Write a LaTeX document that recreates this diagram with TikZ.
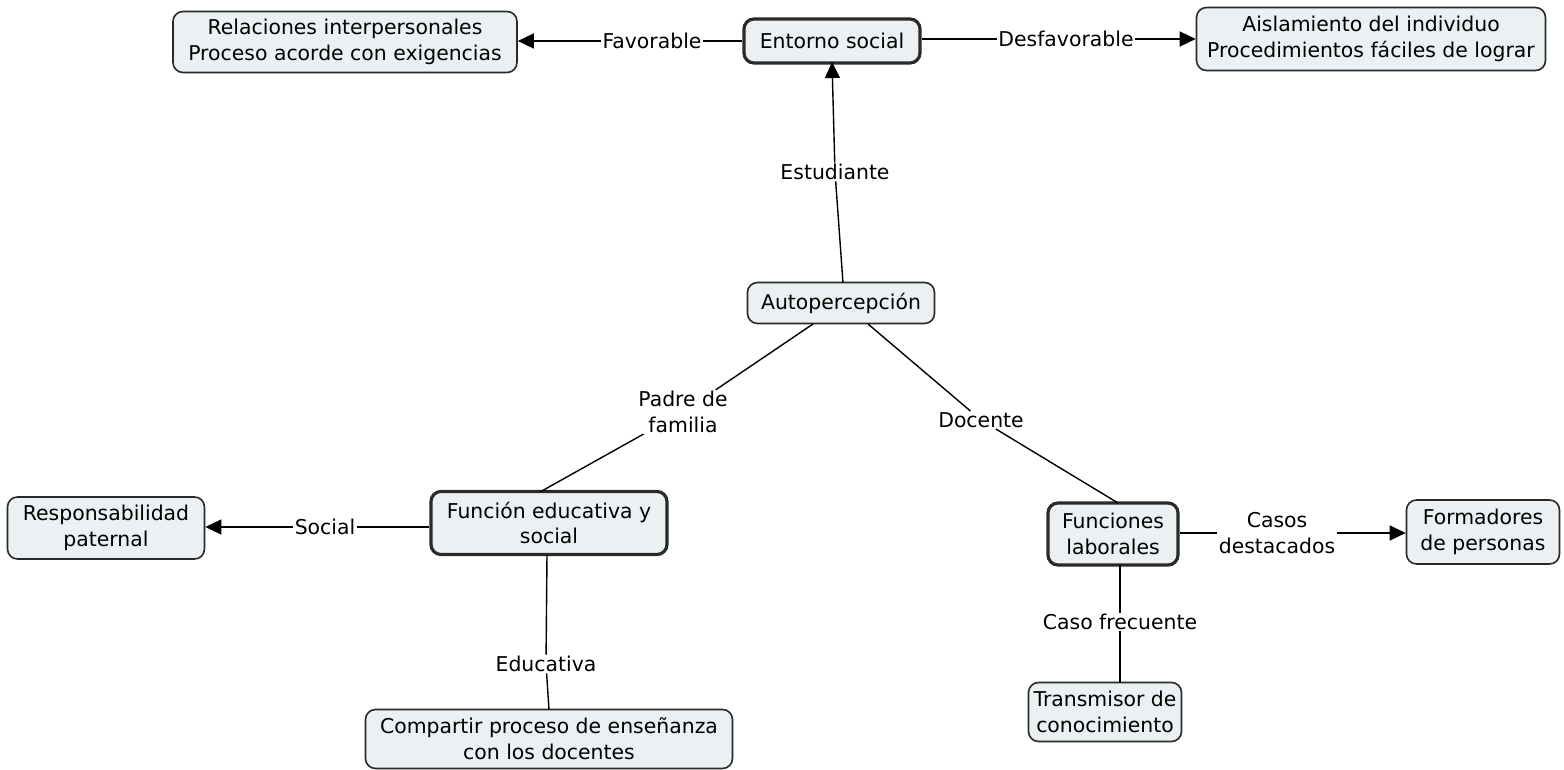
\documentclass[tikz,border=0pt]{standalone}
\usepackage{fontspec}
\setmainfont{DejaVu Sans}
\usetikzlibrary{arrows.meta}
\definecolor{boxfill}{HTML}{EBF1F3}
\definecolor{boxline}{HTML}{2A2A2A}
\tikzset{
  concept/.style={draw=boxline, fill=boxfill, rounded corners=5pt, line width=0.8pt,
    align=center, inner sep=2pt, font=\fontsize{10.2}{12.8}\selectfont},
  keyconcept/.style={concept, line width=1.6pt},
  lbl/.style={inner sep=0.5pt, align=center, font=\fontsize{10.2}{12.8}\selectfont},
  link/.style={line width=0.7pt, draw=black},
  arr/.style={link, -{Triangle[length=8pt,width=7.5pt]}},
}
\begin{document}
\begin{tikzpicture}[x=0.5pt,y=-0.5pt]
\useasboundingbox (0,0) rectangle (1564,770);
\fill[white] (0,0) rectangle (1564,770);
% concepts
\node[concept, minimum width=172pt, minimum height=30.5pt] (rel) at (345,42) {Relaciones interpersonales\\Proceso acorde con exigencias};
\node[keyconcept, minimum width=88pt, minimum height=22pt] (ent) at (832,41) {Entorno social};
\node[concept, minimum width=174.5pt, minimum height=31.5pt] (ais) at (1371,39) {Aislamiento del individuo\\Procedimientos fáciles de lograr};
\node[concept, minimum width=93.5pt, minimum height=20.5pt] (aut) at (841,303) {Autopercepción};
\node[keyconcept, minimum width=118pt, minimum height=31.5pt] (fed) at (549,523) {Función educativa y\\social};
\node[concept, minimum width=98.5pt, minimum height=31pt] (res) at (106,528) {Responsabilidad\\paternal};
\node[keyconcept, minimum width=65pt, minimum height=31pt] (flab) at (1113,534) {Funciones\\laborales};
\node[concept, minimum width=76.5pt, minimum height=32pt] (form) at (1483,532) {Formadores\\de personas};
\node[concept, minimum width=76.5pt, minimum height=29.5pt] (tra) at (1105,712) {Transmisor de\\conocimiento};
\node[concept, minimum width=183.5pt, minimum height=29.5pt] (com) at (549,739) {Compartir proceso de enseñanza\\con los docentes};
% labels
\node[lbl] (lfav) at (652,41) {Favorable};
\node[lbl] (ldes) at (1066,39) {Desfavorable};
\node[lbl] (lest) at (835,172) {Estudiante};
\node[lbl] (lpad) at (683,412) {Padre de\\familia};
\node[lbl] (ldoc) at (981,420) {Docente};
\node[lbl] (lsoc) at (325,527) {Social};
\node[lbl] (ledu) at (546,664) {Educativa};
\node[lbl] (lcas) at (1277,533) {Casos\\destacados};
\node[lbl] (lfre) at (1120,622) {Caso frecuente};
% helper coordinates
\coordinate (entb) at (832,62);
\coordinate (autt) at (843,283);
\coordinate (autl) at (813,324);
\coordinate (autr) at (868,324);
\coordinate (fedt) at (540,492);
\coordinate (fedb) at (547,555);
\coordinate (comt) at (549,710);
\coordinate (flabt) at (1118,503);
\coordinate (flabb) at (1120,565);
\coordinate (trat) at (1120,683);
% connectors
\draw[link] (ent.west |- lfav) -- (lfav);
\draw[arr] (lfav) -- (rel.east |- lfav);
\draw[link] (ent.east |- ldes) -- (ldes);
\draw[arr] (ldes) -- (ais);
\draw[link] (autt) -- (lest);
\draw[arr] (lest) -- (entb);
\draw[link] (autl) -- (lpad);
\draw[link] (lpad) -- (fedt);
\draw[link] (autr) -- (ldoc);
\draw[link] (ldoc) -- (flabt);
\draw[link] (fed.west |- lsoc) -- (lsoc);
\draw[arr] (lsoc) -- (res.east |- lsoc);
\draw[link] (fedb) -- (ledu);
\draw[link] (ledu) -- (comt);
\draw[link] (flab.east |- lcas) -- (lcas);
\draw[arr] (lcas) -- (form.west |- lcas);
\draw[link] (flabb) -- (lfre);
\draw[link] (lfre) -- (trat);
\end{tikzpicture}
\end{document}
